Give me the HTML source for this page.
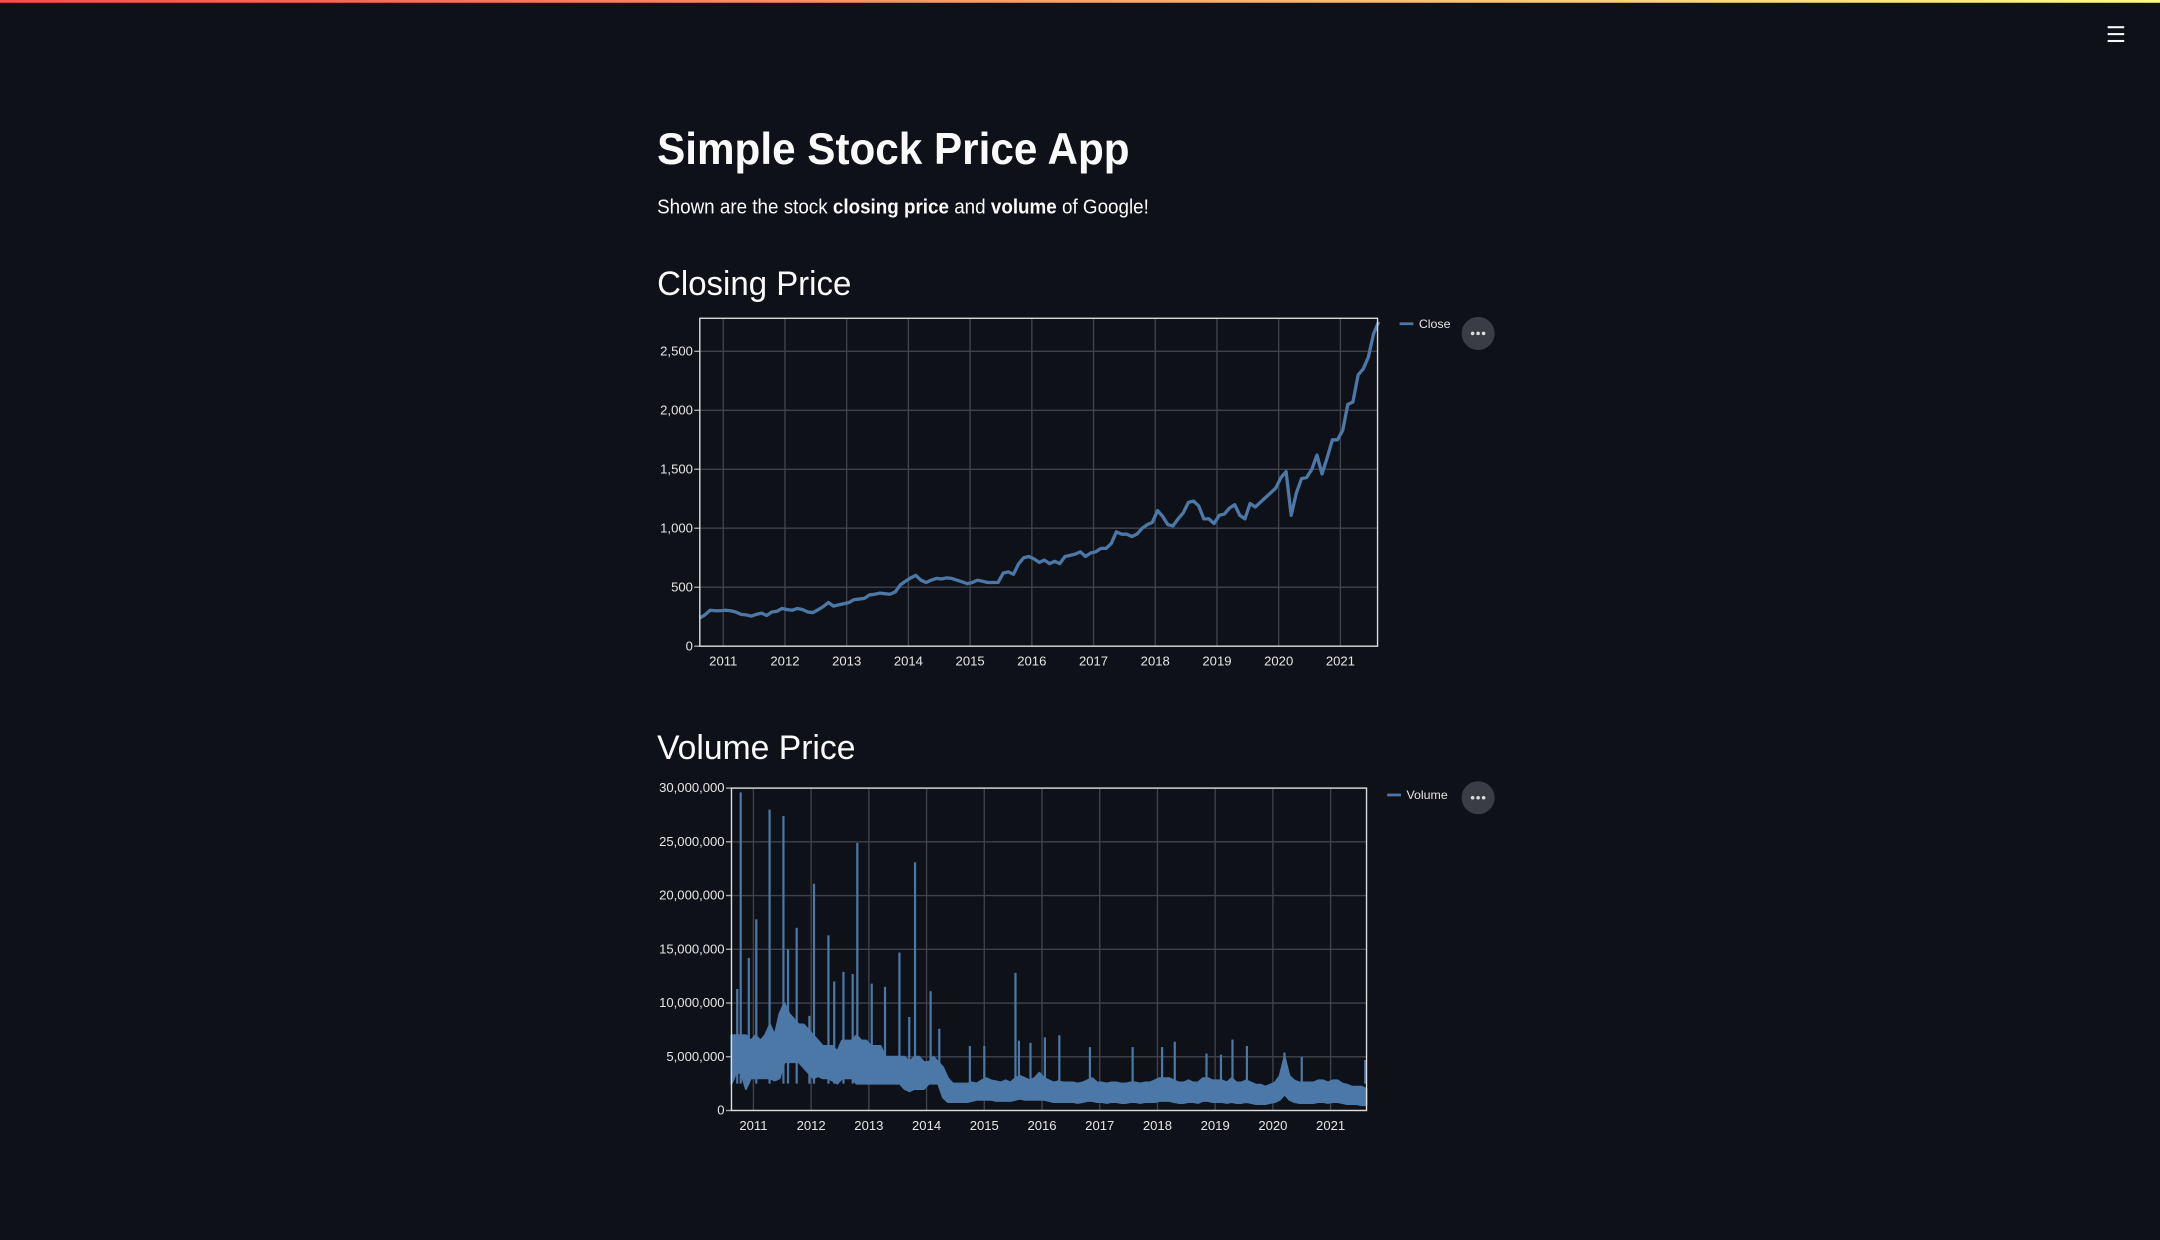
<!DOCTYPE html>
<html><head><meta charset="utf-8"><style>
html,body{margin:0;padding:0;background:#0e1117;width:2160px;height:1240px;overflow:hidden}
svg{display:block}
text{font-family:"Liberation Sans",sans-serif}
</style></head><body>
<svg id="root" width="2160" height="1240" viewBox="0 0 1568 900" preserveAspectRatio="none">
<defs><linearGradient id="topg" x1="0" x2="1"><stop offset="0" stop-color="#ff4b4b"/><stop offset="1" stop-color="#fffd80"/></linearGradient></defs>
<rect x="0" y="0" width="1568" height="2" fill="url(#topg)"/>
<g fill="#fafafa"><rect x="1530" y="19" width="12" height="1.5"/><rect x="1530" y="24" width="12" height="1.5"/><rect x="1530" y="29" width="12" height="1.5"/></g>
<text x="477" y="119" font-size="32" font-weight="bold" fill="#fafafa" textLength="343" lengthAdjust="spacingAndGlyphs">Simple Stock Price App</text>
<text x="477" y="155" font-size="14.5" fill="#fafafa" textLength="357" lengthAdjust="spacingAndGlyphs">Shown are the stock <tspan font-weight="bold">closing price</tspan> and <tspan font-weight="bold">volume</tspan> of Google!</text>
<text x="477" y="214" font-size="25" fill="#fafafa" textLength="141" lengthAdjust="spacingAndGlyphs">Closing Price</text>
<text x="477" y="551" font-size="25" fill="#fafafa" textLength="144" lengthAdjust="spacingAndGlyphs">Volume Price</text>
<g id="c1"></g>
<g id="c2"></g>
<g><circle cx="1073" cy="242" r="12" fill="#3a3d45"/><circle cx="1069" cy="242" r="1.3" fill="#ddd"/><circle cx="1073" cy="242" r="1.3" fill="#ddd"/><circle cx="1077" cy="242" r="1.3" fill="#ddd"/></g>
<g><circle cx="1073" cy="579" r="12" fill="#3a3d45"/><circle cx="1069" cy="579" r="1.3" fill="#ddd"/><circle cx="1073" cy="579" r="1.3" fill="#ddd"/><circle cx="1077" cy="579" r="1.3" fill="#ddd"/></g>
</svg>
<script>
const years=[2011,2012,2013,2014,2015,2016,2017,2018,2019,2020,2021];
const closeTicks=[0,500,1000,1500,2000,2500];
const closeTickLabels=["0","500","1,000","1,500","2,000","2,500"];
const volTicks=[0,5,10,15,20,25,30];
const volTickLabels=["0","5,000,000","10,000,000","15,000,000","20,000,000","25,000,000","30,000,000"];
const startYear=2010.62;
const closeMonthly=[240,265,305,300,300,
305,300,290,270,265,255,270,280,260,290,295,320,
310,305,320,310,290,285,310,335,370,340,350,360,
370,395,400,405,435,440,450,445,440,460,520,550,
580,600,560,540,560,575,570,580,575,560,545,530,
540,560,550,540,540,540,620,630,610,700,750,760,
740,710,730,700,720,700,760,770,780,800,760,790,
800,830,830,870,970,950,950,930,950,1000,1030,1050,
1150,1100,1030,1020,1080,1130,1220,1230,1190,1080,1080,1040,
1110,1120,1170,1200,1110,1080,1210,1180,1220,1260,1300,1340,
1430,1480,1110,1300,1420,1430,1500,1620,1460,1600,1750,1750,
1830,2050,2070,2300,2350,2450,2650,2750];
const volHigh=[7,7,7,7,6.5,
7,6.5,7,8,7,9,10,9,8.5,8,8,7.5,
7,6.5,6,6,6,5.5,6.5,6.5,6.5,7,6.5,6.5,
6,6,6,5,5,5,5,5,4.5,5,5,4.5,
4.5,5,4.5,4,3,2.5,2.5,2.5,2.5,2.6,2.5,2.8,
3,2.8,2.7,2.6,2.8,2.6,3,3.2,3,2.8,3,3.5,
3,2.8,2.6,2.7,2.6,2.6,2.6,2.5,2.6,2.8,3,2.6,
2.6,2.5,2.6,2.6,2.5,2.5,2.6,2.6,2.5,2.6,2.6,2.8,
3,3,3,2.8,2.6,2.6,2.8,2.6,2.6,3,3,2.8,
2.8,2.8,2.6,3,2.6,2.6,2.8,2.6,2.4,2.4,2.2,2.4,
2.6,3.2,5,3.2,2.8,2.6,2.6,2.6,2.6,2.8,2.8,2.6,
2.8,2.8,2.5,2.4,2.2,2.2,2.2,2];
const volLow=[2.5,3.5,3.5,2,3,
3,3,3,3,2.8,3,4.5,4.5,4.5,4.5,4,3.5,
3,3.2,3,3,2.8,2.5,3,3,3,2.5,2.5,2.5,
2.5,2.5,2.5,2.5,2.5,2.5,2.5,2,1.8,2,2,2,
2.5,2.5,2.5,1.2,0.8,0.8,0.8,0.8,0.8,0.9,1,1,
1,1,0.9,0.9,0.9,0.9,1,1.1,1,1,1,1,
1,0.9,0.8,0.8,0.8,0.8,0.8,0.7,0.8,0.9,0.9,0.8,
0.8,0.7,0.8,0.8,0.7,0.7,0.8,0.8,0.7,0.8,0.8,0.8,
0.9,0.9,0.9,0.8,0.7,0.7,0.8,0.8,0.7,0.9,0.9,0.8,
0.8,0.8,0.7,0.8,0.7,0.7,0.8,0.7,0.6,0.6,0.6,0.7,
0.8,1,1.5,1,0.8,0.7,0.7,0.7,0.7,0.8,0.8,0.7,
0.8,0.8,0.7,0.6,0.6,0.6,0.5,0.5];
const spikeDates=[2010.72,2010.78,2010.92,2011.05,2011.28,2011.52,2011.6,2011.75,2011.97,2012.05,2012.3,2012.4,2012.56,2012.72,2012.8,2013.05,2013.28,2013.53,2013.7,2013.8,2014.07,2014.22,2014.75,2015.0,2015.54,2015.6,2015.8,2016.05,2016.3,2016.83,2017.57,2018.08,2018.3,2018.85,2019.1,2019.3,2019.55,2020.2,2020.5,2021.6];
const spikeValues=[11.3,29.6,14.2,17.8,28,27.4,15,17,8.8,21.1,16.3,12,12.9,12.7,24.9,11.8,11.5,14.7,8.7,23.1,11.1,7.6,6,6,12.8,6.5,6.3,6.8,7,5.9,5.9,5.9,6.4,5.3,5.2,6.6,6,5.4,5,4.7];

const NS="http://www.w3.org/2000/svg";
function mk(tag,attrs,parent){const e=document.createElementNS(NS,tag);for(const k in attrs)e.setAttribute(k,attrs[k]);parent.appendChild(e);return e;}
const blue="#4c78a8";

function axes(g,x0,x1,y0,y1,xs,ys,yt,ytl){
  years.forEach((yr,i)=>{const x=xs(yr);
    const l=mk('line',{x1:x,x2:x,y1:y0,y2:y1,stroke:'#3e424b','stroke-width':1},g);
    
    
    const t=mk('text',{x:x,y:y1+14,'font-size':9.5,fill:'#e6e6e6','text-anchor':'middle'},g);t.textContent=yr;
    
    
  });
  yt.forEach((v,i)=>{const y=ys(v);
    const l=mk('line',{x1:x0,x2:x1,y1:y,y2:y,stroke:'#3e424b','stroke-width':1},g);
    
    
    mk('line',{x1:x0-4,x2:x0,y1:y,y2:y,stroke:'#aaa'},g);
    const t=mk('text',{x:x0-5,y:y+3,'font-size':9.5,fill:'#e6e6e6','text-anchor':'end'},g);t.textContent=ytl[i];
    
    
  });
}

(function(){
  const g=document.getElementById('c1');
  const x0=508,x1=1000,y0=231,y1=469;
  const xs=yr=>x0+(yr-startYear)*44.8;
  const ys=v=>y1-v*214/2500;
  axes(g,x0,x1,y0,y1,xs,ys,closeTicks,closeTickLabels);
  let d='';
  closeMonthly.forEach((v,i)=>{d+=(i?'L':'M')+xs(startYear+i/12).toFixed(1)+','+ys(v).toFixed(1);});
  const p=mk('path',{d:d,fill:'none',stroke:blue,'stroke-width':2.4,'stroke-linejoin':'round'},g);
  
  
  const b=mk('rect',{x:x0,y:y0,width:x1-x0,height:y1-y0,fill:'none',stroke:'#ddd','stroke-width':1},g);
  
  
  const lg=mk('g',{},g);
  
  
  mk('line',{x1:1016,x2:1026,y1:235,y2:235,stroke:blue,'stroke-width':2},lg);
  const lt=mk('text',{x:1030,y:238,'font-size':9,fill:'#e6e6e6'},lg);lt.textContent='Close';
})();

(function(){
  const g=document.getElementById('c2');
  const x0=531,x1=992,y0=572,y1=806;
  const xs=yr=>x0+(yr-startYear)*41.9;
  const ys=v=>y1-v*234/30;
  axes(g,x0,x1,y0,y1,xs,ys,volTicks,volTickLabels);
  let top='',bot='';
  volHigh.forEach((v,i)=>{top+=(i?'L':'M')+xs(startYear+i/12).toFixed(1)+','+ys(v).toFixed(1);});
  for(let i=volLow.length-1;i>=0;i--){bot+='L'+xs(startYear+i/12).toFixed(1)+','+ys(volLow[i]).toFixed(1);}
  const band=mk('path',{d:top+bot+'Z',fill:blue,stroke:blue,'stroke-width':1.5,'stroke-linejoin':'round'},g);
  
  
  spikeDates.forEach((t,i)=>{
    const x=xs(t);
    const s=mk('line',{x1:x,x2:x,y1:ys(2.5),y2:ys(spikeValues[i]),stroke:blue,'stroke-width':1.6},g);
    
    
  });
  const b=mk('rect',{x:x0,y:y0,width:x1-x0,height:y1-y0,fill:'none',stroke:'#ddd','stroke-width':1},g);
  
  
  const lg=mk('g',{},g);
  
  
  mk('line',{x1:1007,x2:1017,y1:577,y2:577,stroke:blue,'stroke-width':2},lg);
  const lt=mk('text',{x:1021,y:580,'font-size':9,fill:'#e6e6e6'},lg);lt.textContent='Volume';
})();
</script>
</body></html>
